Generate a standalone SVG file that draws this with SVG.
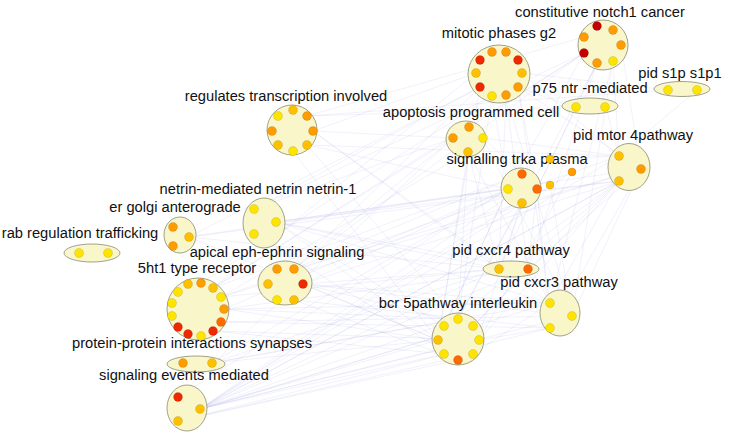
<svg xmlns="http://www.w3.org/2000/svg" width="729" height="437" viewBox="0 0 729 437">
<style>
.bg{fill:#ffffff}
.cl{fill:#f9f6c9;stroke:#8a8a70;stroke-width:0.8}
.lb{font-family:"Liberation Sans",Arial,sans-serif;font-size:14.7px;fill:#111;text-anchor:middle}
.n{stroke:#000;stroke-opacity:0.18;stroke-width:0.6}
.Y{fill:#ffe400}.YO{fill:#ffc000}.O{fill:#ff9c00}.OR{fill:#ff6a00}.R{fill:#ee2800}.DR{fill:#c40000}
#edges line{stroke:#a8a8e6;stroke-opacity:0.28;stroke-width:0.6}
</style>
<rect class="bg" x="0" y="0" width="729" height="437"/>
<g id="edges">
<line x1="200" y1="409" x2="458" y2="319"/><line x1="200" y1="409" x2="473" y2="326"/><line x1="200" y1="409" x2="550" y2="303"/><line x1="200" y1="409" x2="572" y2="316"/><line x1="200" y1="409" x2="438" y2="340"/><line x1="200" y1="409" x2="521" y2="188"/><line x1="200" y1="409" x2="619" y2="181"/><line x1="200" y1="409" x2="641" y2="169"/><line x1="200" y1="409" x2="499" y2="269"/><line x1="200" y1="409" x2="528" y2="269"/><line x1="178" y1="421" x2="473" y2="354"/><line x1="178" y1="421" x2="550" y2="328"/><line x1="178" y1="397" x2="508" y2="189"/>
<line x1="200" y1="409" x2="479" y2="340"/><line x1="200" y1="409" x2="444" y2="354"/><line x1="178" y1="421" x2="458" y2="360"/><line x1="200" y1="409" x2="537" y2="189"/><line x1="200" y1="409" x2="619" y2="156"/><line x1="178" y1="397" x2="453" y2="138"/><line x1="200" y1="409" x2="572" y2="172"/>
<line x1="224" y1="309" x2="438" y2="340"/><line x1="224" y1="309" x2="458" y2="319"/><line x1="224" y1="309" x2="550" y2="303"/><line x1="224" y1="309" x2="508" y2="189"/><line x1="221" y1="297" x2="619" y2="156"/><line x1="221" y1="297" x2="499" y2="269"/><line x1="213" y1="288" x2="476" y2="73"/><line x1="213" y1="288" x2="453" y2="138"/><line x1="213" y1="288" x2="584" y2="53"/><line x1="221" y1="322" x2="572" y2="316"/><line x1="213" y1="331" x2="444" y2="354"/>
<line x1="224" y1="309" x2="528" y2="269"/><line x1="221" y1="322" x2="550" y2="328"/><line x1="221" y1="297" x2="641" y2="169"/><line x1="213" y1="288" x2="522" y2="174"/><line x1="221" y1="297" x2="468" y2="152"/><line x1="213" y1="331" x2="479" y2="340"/><line x1="201" y1="283" x2="492" y2="96"/>
<line x1="313" y1="131" x2="476" y2="73"/><line x1="313" y1="131" x2="453" y2="138"/><line x1="307" y1="145" x2="508" y2="189"/><line x1="307" y1="145" x2="619" y2="156"/><line x1="307" y1="116" x2="576" y2="108"/><line x1="307" y1="116" x2="668" y2="90"/><line x1="293" y1="151" x2="438" y2="340"/>
<line x1="313" y1="131" x2="499" y2="269"/><line x1="313" y1="131" x2="550" y2="303"/><line x1="307" y1="145" x2="458" y2="319"/><line x1="307" y1="116" x2="584" y2="37"/>
<line x1="276" y1="222" x2="508" y2="189"/><line x1="276" y1="222" x2="438" y2="340"/><line x1="276" y1="222" x2="499" y2="269"/><line x1="276" y1="222" x2="619" y2="181"/><line x1="276" y1="222" x2="550" y2="303"/><line x1="254" y1="209" x2="453" y2="138"/><line x1="254" y1="209" x2="480" y2="87"/>
<line x1="276" y1="222" x2="444" y2="326"/><line x1="276" y1="222" x2="528" y2="269"/><line x1="276" y1="222" x2="641" y2="169"/><line x1="254" y1="234" x2="458" y2="360"/><line x1="254" y1="209" x2="584" y2="53"/>
<line x1="303" y1="284" x2="438" y2="340"/><line x1="303" y1="284" x2="499" y2="269"/><line x1="303" y1="284" x2="508" y2="189"/><line x1="303" y1="284" x2="550" y2="303"/><line x1="303" y1="284" x2="619" y2="181"/><line x1="294" y1="269" x2="641" y2="169"/><line x1="294" y1="269" x2="480" y2="87"/><line x1="294" y1="269" x2="584" y2="53"/><line x1="294" y1="300" x2="458" y2="360"/>
<line x1="303" y1="284" x2="572" y2="316"/><line x1="303" y1="284" x2="473" y2="326"/><line x1="294" y1="269" x2="522" y2="174"/><line x1="294" y1="269" x2="453" y2="138"/><line x1="294" y1="300" x2="550" y2="328"/>
<line x1="522" y1="73" x2="619" y2="156"/><line x1="518" y1="87" x2="537" y2="189"/><line x1="518" y1="87" x2="550" y2="303"/><line x1="506" y1="95" x2="572" y2="316"/><line x1="492" y1="96" x2="458" y2="319"/><line x1="506" y1="95" x2="499" y2="269"/><line x1="522" y1="73" x2="668" y2="90"/><line x1="518" y1="87" x2="576" y2="108"/><line x1="480" y1="87" x2="438" y2="340"/>
<line x1="518" y1="87" x2="641" y2="169"/><line x1="506" y1="95" x2="528" y2="269"/><line x1="492" y1="96" x2="508" y2="189"/>
<line x1="597" y1="63" x2="537" y2="189"/><line x1="613" y1="61" x2="619" y2="156"/><line x1="597" y1="63" x2="458" y2="319"/><line x1="613" y1="61" x2="550" y2="303"/><line x1="597" y1="63" x2="499" y2="269"/><line x1="584" y1="53" x2="453" y2="138"/><line x1="621" y1="45" x2="641" y2="169"/>
<line x1="613" y1="61" x2="572" y2="316"/><line x1="597" y1="63" x2="528" y2="269"/><line x1="584" y1="53" x2="508" y2="189"/>
<line x1="619" y1="181" x2="458" y2="319"/><line x1="619" y1="181" x2="473" y2="326"/><line x1="619" y1="181" x2="550" y2="303"/><line x1="619" y1="181" x2="499" y2="269"/><line x1="641" y1="169" x2="528" y2="269"/><line x1="641" y1="169" x2="572" y2="316"/><line x1="619" y1="156" x2="697" y2="90"/><line x1="619" y1="156" x2="606" y2="108"/>
<line x1="619" y1="181" x2="479" y2="340"/><line x1="641" y1="169" x2="550" y2="328"/>
<line x1="468" y1="152" x2="458" y2="319"/><line x1="468" y1="152" x2="550" y2="303"/><line x1="468" y1="152" x2="499" y2="269"/><line x1="483" y1="138" x2="522" y2="174"/><line x1="483" y1="138" x2="619" y2="156"/>
<line x1="468" y1="152" x2="438" y2="340"/><line x1="483" y1="138" x2="572" y2="316"/>
<line x1="522" y1="203" x2="458" y2="319"/><line x1="522" y1="203" x2="473" y2="354"/><line x1="537" y1="189" x2="550" y2="328"/><line x1="522" y1="203" x2="499" y2="269"/><line x1="537" y1="189" x2="528" y2="269"/><line x1="550" y1="185" x2="572" y2="316"/><line x1="572" y1="172" x2="479" y2="340"/><line x1="550" y1="159" x2="619" y2="156"/>
<line x1="508" y1="189" x2="438" y2="340"/><line x1="508" y1="189" x2="444" y2="326"/>
<line x1="550" y1="328" x2="479" y2="340"/><line x1="550" y1="303" x2="473" y2="354"/><line x1="528" y1="269" x2="473" y2="326"/>
<line x1="212" y1="363" x2="438" y2="340"/><line x1="212" y1="363" x2="458" y2="319"/><line x1="212" y1="363" x2="550" y2="303"/>
<line x1="212" y1="363" x2="499" y2="269"/><line x1="212" y1="363" x2="508" y2="189"/>
<line x1="189" y1="237" x2="438" y2="340"/><line x1="189" y1="237" x2="508" y2="189"/><line x1="189" y1="237" x2="480" y2="87"/>
<line x1="189" y1="237" x2="499" y2="269"/><line x1="189" y1="237" x2="619" y2="181"/>
</g>
<g id="constitutive-notch1-cancer">
<circle class="cl" cx="603" cy="45" r="25"/>
<circle class="n DR" cx="597" cy="26" r="4.5"/><circle class="n O" cx="613" cy="30" r="4.5"/><circle class="n O" cx="621" cy="45" r="4.5"/><circle class="n Y" cx="613" cy="61" r="4.5"/><circle class="n O" cx="597" cy="63" r="4.5"/><circle class="n DR" cx="584" cy="53" r="4.5"/><circle class="n O" cx="584" cy="37" r="4.5"/>
<text class="lb" x="600" y="17">constitutive notch1 cancer</text>
</g>
<g id="mitotic-phases-g2">
<ellipse class="cl" cx="499" cy="74" rx="31" ry="29"/>
<circle class="n O" cx="492" cy="52" r="4.5"/><circle class="n O" cx="506" cy="52" r="4.5"/><circle class="n R" cx="518" cy="60" r="4.5"/><circle class="n YO" cx="522" cy="73" r="4.5"/><circle class="n O" cx="518" cy="87" r="4.5"/><circle class="n O" cx="506" cy="95" r="4.5"/><circle class="n Y" cx="492" cy="96" r="4.5"/><circle class="n R" cx="480" cy="87" r="4.5"/><circle class="n YO" cx="476" cy="73" r="4.5"/><circle class="n R" cx="480" cy="60" r="4.5"/>
<text class="lb" x="499" y="38">mitotic phases g2</text>
</g>
<g id="pid-s1p-s1p1">
<ellipse class="cl" cx="682" cy="89" rx="28" ry="7.5"/>
<circle class="n Y" cx="668" cy="90" r="4.5"/><circle class="n Y" cx="697" cy="90" r="4.5"/>
<text class="lb" x="680" y="78">pid s1p s1p1</text>
</g>
<g id="p75-ntr-mediated">
<ellipse class="cl" cx="590" cy="106" rx="28" ry="8"/>
<circle class="n Y" cx="576" cy="107" r="4.5"/><circle class="n Y" cx="605" cy="107" r="4.5"/>
<text class="lb" x="590" y="93">p75 ntr -mediated</text>
</g>
<g id="regulates-transcription-involved">
<circle class="cl" cx="292" cy="130" r="25"/>
<circle class="n YO" cx="293" cy="110" r="4.5"/><circle class="n O" cx="307" cy="116" r="4.5"/><circle class="n O" cx="313" cy="131" r="4.5"/><circle class="n YO" cx="307" cy="145" r="4.5"/><circle class="n Y" cx="293" cy="151" r="4.5"/><circle class="n YO" cx="278" cy="145" r="4.5"/><circle class="n O" cx="272" cy="131" r="4.5"/><circle class="n Y" cx="278" cy="116" r="4.5"/>
<text class="lb" x="286" y="101">regulates transcription involved</text>
</g>
<g id="apoptosis-programmed-cell">
<ellipse class="cl" cx="466" cy="139" rx="20" ry="18"/>
<circle class="n O" cx="469" cy="127" r="4.5"/><circle class="n Y" cx="483" cy="138" r="4.5"/><circle class="n YO" cx="468" cy="152" r="4.5"/><circle class="n O" cx="453" cy="138" r="4.5"/>
<text class="lb" x="471" y="117">apoptosis programmed cell</text>
</g>
<g id="signalling-trka-plasma">
<circle class="cl" cx="521" cy="188" r="20"/>
<circle class="n OR" cx="522" cy="174" r="4.5"/><circle class="n OR" cx="537" cy="189" r="4.5"/><circle class="n YO" cx="522" cy="203" r="4.5"/><circle class="n Y" cx="508" cy="189" r="4.5"/>
<text class="lb" x="517" y="164">signalling trka plasma</text>
</g>
<g id="trka-extra">
<circle class="n YO" cx="550" cy="159" r="4"/><circle class="n O" cx="572" cy="172" r="4"/><circle class="n YO" cx="550" cy="185" r="4"/>
</g>
<g id="pid-mtor-4pathway">
<ellipse class="cl" cx="629" cy="167" rx="21" ry="23.5"/>
<circle class="n YO" cx="619" cy="156" r="4.5"/><circle class="n O" cx="641" cy="169" r="4.5"/><circle class="n YO" cx="619" cy="181" r="4.5"/>
<text class="lb" x="633" y="140">pid mtor 4pathway</text>
</g>
<g id="netrin-mediated-netrin-netrin-1">
<ellipse class="cl" cx="264" cy="223" rx="21" ry="25"/>
<circle class="n Y" cx="254" cy="209" r="4.5"/><circle class="n Y" cx="276" cy="222" r="4.5"/><circle class="n Y" cx="254" cy="234" r="4.5"/>
<text class="lb" x="258" y="194">netrin-mediated netrin netrin-1</text>
</g>
<g id="er-golgi-anterograde">
<ellipse class="cl" cx="180" cy="235" rx="16" ry="18"/>
<circle class="n O" cx="173" cy="227" r="4.5"/><circle class="n YO" cx="189" cy="237" r="4.5"/><circle class="n O" cx="173" cy="246" r="4.5"/>
<text class="lb" x="175" y="212">er golgi anterograde</text>
</g>
<g id="rab-regulation-trafficking">
<ellipse class="cl" cx="92" cy="253" rx="28" ry="9"/>
<circle class="n Y" cx="79" cy="253" r="4.5"/><circle class="n Y" cx="108" cy="253" r="4.5"/>
<text class="lb" x="80" y="238">rab regulation trafficking</text>
</g>
<g id="apical-eph-ephrin-signaling">
<ellipse class="cl" cx="285" cy="283" rx="27" ry="22"/>
<circle class="n O" cx="277" cy="269" r="4.5"/><circle class="n O" cx="294" cy="269" r="4.5"/><circle class="n R" cx="303" cy="284" r="4.5"/><circle class="n YO" cx="294" cy="300" r="4.5"/><circle class="n Y" cx="277" cy="300" r="4.5"/><circle class="n YO" cx="268" cy="284" r="4.5"/>
<text class="lb" x="277" y="257">apical eph-ephrin signaling</text>
</g>
<g id="5ht1-type-receptor">
<circle class="cl" cx="198" cy="309" r="31"/>
<circle class="n O" cx="201" cy="283" r="4.5"/><circle class="n YO" cx="213" cy="288" r="4.5"/><circle class="n Y" cx="221" cy="297" r="4.5"/><circle class="n O" cx="224" cy="309" r="4.5"/><circle class="n OR" cx="221" cy="322" r="4.5"/><circle class="n R" cx="213" cy="331" r="4.5"/><circle class="n Y" cx="201" cy="336" r="4.5"/><circle class="n R" cx="188" cy="334" r="4.5"/><circle class="n R" cx="178" cy="327" r="4.5"/><circle class="n Y" cx="172" cy="316" r="4.5"/><circle class="n Y" cx="172" cy="303" r="4.5"/><circle class="n Y" cx="178" cy="292" r="4.5"/><circle class="n YO" cx="188" cy="284" r="4.5"/>
<text class="lb" x="197" y="273">5ht1 type receptor</text>
</g>
<g id="pid-cxcr4-pathway">
<ellipse class="cl" cx="511" cy="269" rx="28" ry="8"/>
<circle class="n YO" cx="499" cy="269" r="4.5"/><circle class="n OR" cx="528" cy="269" r="4.5"/>
<text class="lb" x="511" y="255">pid cxcr4 pathway</text>
</g>
<g id="pid-cxcr3-pathway">
<ellipse class="cl" cx="560" cy="313" rx="20" ry="23"/>
<circle class="n Y" cx="550" cy="303" r="4.5"/><circle class="n Y" cx="572" cy="316" r="4.5"/><circle class="n Y" cx="550" cy="328" r="4.5"/>
<text class="lb" x="559" y="287">pid cxcr3 pathway</text>
</g>
<g id="bcr-5pathway-interleukin">
<circle class="cl" cx="458" cy="339" r="26"/>
<circle class="n Y" cx="458" cy="319" r="4.5"/><circle class="n Y" cx="473" cy="326" r="4.5"/><circle class="n Y" cx="479" cy="340" r="4.5"/><circle class="n Y" cx="473" cy="354" r="4.5"/><circle class="n OR" cx="458" cy="360" r="4.5"/><circle class="n Y" cx="444" cy="354" r="4.5"/><circle class="n YO" cx="438" cy="340" r="4.5"/><circle class="n Y" cx="444" cy="326" r="4.5"/>
<text class="lb" x="458" y="308">bcr 5pathway interleukin</text>
</g>
<g id="protein-protein-interactions-synapses">
<ellipse class="cl" cx="196" cy="364" rx="29" ry="8"/>
<circle class="n O" cx="183" cy="363" r="4.5"/><circle class="n YO" cx="212" cy="363" r="4.5"/>
<text class="lb" x="192" y="348">protein-protein interactions synapses</text>
</g>
<g id="signaling-events-mediated">
<ellipse class="cl" cx="187" cy="408" rx="20" ry="23"/>
<circle class="n R" cx="178" cy="397" r="4.5"/><circle class="n YO" cx="200" cy="409" r="4.5"/><circle class="n YO" cx="178" cy="421" r="4.5"/>
<text class="lb" x="184" y="380">signaling events mediated</text>
</g>
</svg>
